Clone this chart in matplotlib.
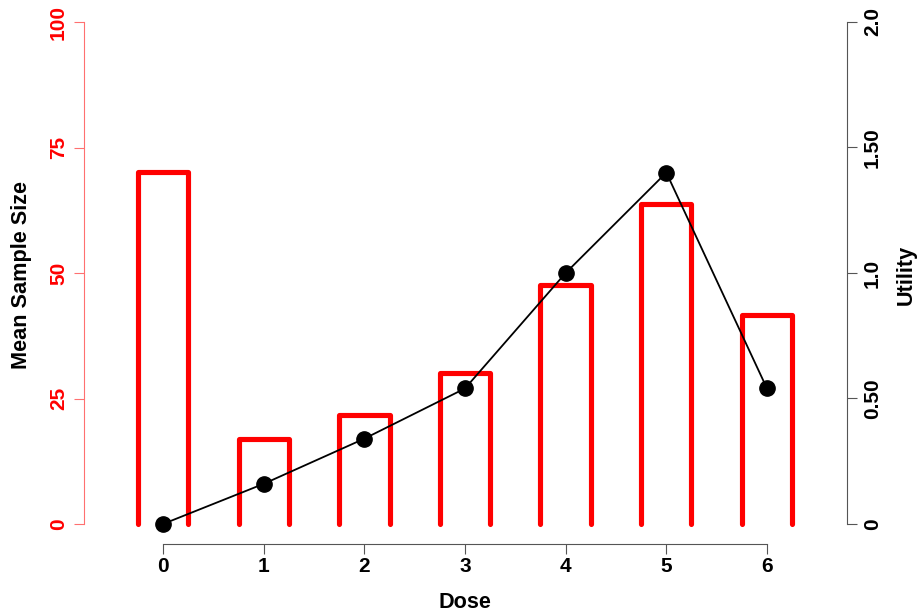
import matplotlib
matplotlib.use("Agg")
import matplotlib.pyplot as plt

plt.rcParams['font.family'] = ['Liberation Sans', 'DejaVu Sans']
plt.rcParams['font.weight'] = 'bold'

doses = [0, 1, 2, 3, 4, 5, 6]
mean_sample_size = [70.1, 16.9, 21.7, 30.1, 47.6, 63.7, 41.6]
utility = [0.0, 0.16, 0.34, 0.54, 1.0, 1.40, 0.54]

left_ticks = [0, 25, 50, 75, 100]
left_labels = ["0", "25", "50", "75", "100"]
right_ticks = [0, 0.5, 1.0, 1.5, 2.0]
right_labels = ["0", "0.50", "1.0", "1.50", "2.0"]

W, H = 918, 616
fig = plt.figure(figsize=(W / 100, H / 100), dpi=100)

# axes box in pixel terms: left spine at x=84, right spine at x=847,
# bottom (x-axis line) at y=544, top at y=22
ax = fig.add_axes([84 / W, (H - 544) / H, (847 - 84) / W, (544 - 22) / H])
ax.set_xlim(-0.785, 6.795)
ax.set_ylim(-3.98, 100)

half = 0.25
for d, v in zip(doses, mean_sample_size):
    ax.plot([d - half, d - half, d + half, d + half], [0, v, v, 0],
            color='#FF0000', lw=3.7, solid_capstyle='round',
            solid_joinstyle='round', zorder=2)

for s in ['top', 'right']:
    ax.spines[s].set_visible(False)
ax.spines['left'].set_bounds(0, 100)
ax.spines['left'].set_color('#FF7070')
ax.spines['left'].set_linewidth(0.8)
ax.spines['bottom'].set_bounds(0, 6)
ax.spines['bottom'].set_color('#555555')
ax.spines['bottom'].set_linewidth(0.8)

tick_fs = 15
ax.set_yticks(left_ticks)
ax.set_yticklabels(left_labels, rotation=90, va='center', color='#FF0000',
                   fontsize=tick_fs, fontweight='bold')
ax.tick_params(axis='y', colors='#FF7070', length=7, width=0.8, pad=4.5,
               labelcolor='#FF0000')
ax.set_xticks(doses)
ax.set_xticklabels([str(d) for d in doses], fontsize=tick_fs,
                   fontweight='bold')
ax.tick_params(axis='x', colors='#555555', length=7, width=0.8, pad=2.5,
               labelcolor='black')

ax2 = ax.twinx()
ax2.set_ylim(-0.0797, 2.0)
for s in ['top', 'left', 'bottom']:
    ax2.spines[s].set_visible(False)
ax2.spines['right'].set_bounds(0, 2.0)
ax2.spines['right'].set_color('#555555')
ax2.spines['right'].set_linewidth(0.8)
ax2.set_yticks(right_ticks)
ax2.set_yticklabels(right_labels, rotation=90, va='center',
                    fontsize=tick_fs, fontweight='bold')
ax2.tick_params(axis='y', colors='#555555', length=7, width=0.8, pad=4.5,
                labelcolor='black')

ax2.plot(doses, utility, color='black', lw=1.3, marker='o', markersize=11,
         markerfacecolor='black', markeredgecolor='black', zorder=3)

title_fs = 15.6
fig.text(22 / W, 1 - 275 / H, "Mean Sample Size", rotation=90,
         ha='center', va='center', fontsize=title_fs, fontweight='bold')
fig.text(906 / W, 1 - 275 / H, "Utility", rotation=90,
         ha='center', va='center', fontsize=title_fs, fontweight='bold')
fig.text(465 / W, 1 - 603 / H, "Dose", ha='center', va='center',
         fontsize=title_fs, fontweight='bold')

fig.savefig("out.png", dpi=100)
